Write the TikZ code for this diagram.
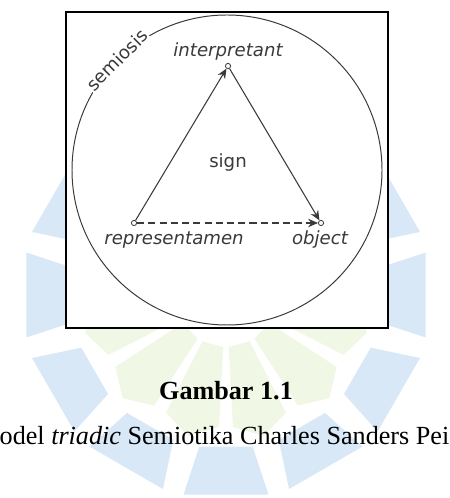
\documentclass[tikz,border=0pt]{standalone}
\usepackage{xcolor}
\usepackage{fontspec}
\setmainfont{Liberation Serif}
\newfontfamily\diagfont{DejaVu Sans}
\usepackage{tikz}
\usetikzlibrary{arrows.meta}
\definecolor{wmblue}{HTML}{D8E8F7}
\definecolor{wmgreen}{HTML}{F0F7E4}
\definecolor{ink}{HTML}{3A3A3A}

\begin{document}
\begin{tikzpicture}[
    vertex/.style={circle, draw=ink, fill=white, line width=0.6pt, inner sep=0pt, minimum size=0.13cm},
    lbl/.style={text=ink, font=\diagfont\fontsize{12.9}{15}\selectfont\itshape, inner sep=1pt},
    edge/.style={draw=ink, line width=0.75pt, -{Stealth[length=7pt, width=6pt]}},
]
\useasboundingbox (0,0) rectangle (11.225,12.45);
\clip (0,0) rectangle (11.225,12.45);

\begin{scope}[shift={(5.65,5.075)}]
\foreach \a in {15,45,...,345}
    \fill[wmgreen] (\a-12:1.3) -- (\a-12:3.3) -- (\a:3.65) -- (\a+12:3.3) -- (\a+12:1.3) -- cycle;
\foreach \a in {0,30,...,330}
    \fill[wmblue] (\a-10:3.85) -- (\a-12:5.1) -- (\a+12:5.1) -- (\a+10:3.85) -- cycle;
\end{scope}

\draw[line width=1.4pt, fill=white] (1.65,4.25) rectangle (9.7,12.15);

\node[circle, draw=ink, line width=0.7pt, minimum size=7.75cm, inner sep=0pt] (semiosis) at (5.675,8.2) {};
\node[text=ink, font=\diagfont\fontsize{12.9}{15}\selectfont, fill=white, inner sep=0.5pt, rotate=45] (semlbl) at (semiosis.135) {semiosis};

\node[vertex] (interp) at (5.7,10.8) {};
\node[vertex] (repr) at (3.35,6.875) {};
\node[vertex] (obj) at (8.025,6.875) {};

\node[lbl] (interplbl) at (5.7,11.15) {interpretant};
\node[lbl] (reprlbl) at (4.35,6.45) {representamen};
\node[lbl] (objlbl) at (8.0,6.45) {object};
\node[lbl, font=\diagfont\fontsize{12.9}{15}\selectfont] (sign) at (5.7,8.375) {sign};

\draw[edge] (repr) -- (interp);
\draw[edge] (interp) -- (obj);
\draw[edge, dashed, dash pattern=on 5pt off 3pt] (repr) -- (obj);

\node[font=\fontsize{18.6}{22}\selectfont\bfseries] (fig) at (5.65,2.68) {Gambar 1.1};
\node[font=\fontsize{18.6}{22}\selectfont, inner sep=0pt] (caption) at (5.6125,1.55) {odel \textit{triadic} Semiotika Charles Sanders Pei};

\end{tikzpicture}
\end{document}
